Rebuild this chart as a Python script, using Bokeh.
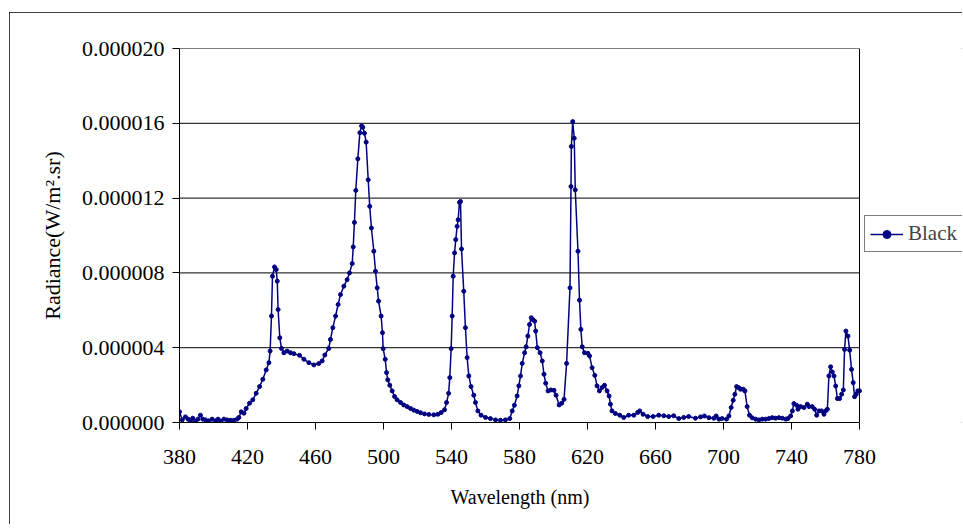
from bokeh.plotting import figure
from bokeh.models import (FixedTicker, PrintfTickFormatter, Legend, LegendItem,
                          Range1d, Span, Title)
from bokeh.embed import file_html
from bokeh.resources import INLINE

# ---- data ----
wavelength = [
    380.0, 381.6, 383.5, 385.1, 386.5, 387.8, 389.4, 390.8, 392.3, 393.7,
    395.3, 397.3, 399.2, 401.2, 402.7, 404.1, 406.1, 408.0, 410.0, 412.0,
    413.9, 414.9, 416.3, 417.9, 419.2, 421.2, 423.1, 425.1, 427.1, 429.0,
    431.0, 432.6, 433.3, 434.1, 434.7, 435.9, 436.9, 437.5, 438.0, 439.0,
    440.0, 441.4, 443.3, 445.3, 447.3, 450.6, 453.2, 456.1, 459.0, 461.9,
    463.9, 465.5, 467.8, 468.8, 470.2, 471.8, 473.3, 474.7, 476.7, 478.6,
    480.0, 481.6, 482.2, 482.9, 483.7, 484.9, 486.1, 487.1, 487.8, 488.8,
    489.8, 491.0, 491.9, 492.9, 494.3, 495.3, 496.3, 497.1, 498.6, 499.4,
    499.8, 501.0, 501.8, 502.5, 503.7, 505.1, 506.5, 508.0, 510.0, 511.9,
    513.9, 515.9, 517.8, 519.8, 521.8, 524.1, 526.7, 529.6, 532.0, 533.9,
    535.9, 537.1, 538.3, 539.0, 539.8, 540.4, 541.0, 541.8, 542.5, 543.3,
    543.9, 544.7, 545.3, 545.9, 547.2, 548.2, 549.2, 550.2, 551.5, 553.1,
    554.1, 555.5, 557.4, 560.0, 562.9, 565.9, 568.8, 571.7, 574.3, 575.7,
    577.0, 578.6, 579.6, 580.6, 581.6, 583.0, 583.9, 584.9, 585.9, 586.9,
    587.9, 588.9, 589.5, 590.5, 592.1, 593.4, 594.4, 595.4, 596.8, 598.4,
    600.3, 601.5, 603.3, 604.8, 606.2, 607.7, 609.7, 610.3, 610.5, 611.3,
    612.2, 612.8, 614.4, 615.3, 616.1, 616.9, 618.2, 620.2, 621.2, 622.7,
    624.3, 625.6, 627.0, 628.6, 630.0, 631.5, 632.7, 633.5, 634.4, 636.4,
    639.0, 641.3, 644.2, 647.2, 649.5, 650.7, 652.7, 655.4, 658.6, 661.9,
    664.9, 667.8, 670.7, 673.7, 676.6, 679.5, 683.5, 686.5, 688.8, 691.4,
    694.3, 695.7, 697.3, 699.2, 701.8, 703.2, 704.5, 705.7, 706.7, 707.7,
    709.0, 710.0, 711.6, 712.6, 713.9, 715.3, 716.9, 718.9, 720.8, 722.8,
    724.8, 726.7, 728.7, 730.6, 732.6, 734.6, 736.6, 737.9, 739.5, 740.5,
    741.4, 743.0, 743.8, 745.3, 747.3, 749.3, 750.3, 752.2, 753.6, 754.8,
    756.2, 757.7, 759.1, 760.1, 761.1, 762.0, 763.0, 764.0, 765.0, 766.0,
    767.0, 768.3, 769.5, 770.5, 771.2, 772.0, 773.2, 774.2, 775.3, 776.3,
    777.1, 778.1, 779.0, 780.0,
]

# radiance in units of 1e-6 W/m2.sr
radiance_micro = [
    0.57, 0.14, 0.30, 0.18, 0.09, 0.23, 0.04, 0.18, 0.39, 0.18,
    0.14, 0.09, 0.18, 0.09, 0.18, 0.07, 0.18, 0.14, 0.12, 0.12,
    0.18, 0.27, 0.57, 0.50, 0.75, 1.03, 1.21, 1.56, 1.92, 2.31,
    2.81, 3.20, 3.82, 5.69, 7.82, 8.32, 8.18, 7.56, 6.04, 4.53,
    3.96, 3.73, 3.82, 3.73, 3.68, 3.59, 3.38, 3.20, 3.08, 3.15,
    3.29, 3.61, 3.96, 4.44, 5.07, 5.69, 6.31, 6.84, 7.29, 7.64,
    8.00, 8.50, 9.39, 10.70, 12.41, 14.10, 15.50, 15.86, 15.79, 15.47,
    14.99, 12.98, 11.56, 10.40, 9.16, 8.09, 7.20, 6.49, 5.69, 4.80,
    3.95, 3.38, 2.67, 2.28, 1.99, 1.69, 1.39, 1.21, 1.07, 0.94,
    0.85, 0.75, 0.66, 0.59, 0.52, 0.46, 0.43, 0.41, 0.44, 0.53,
    0.68, 1.07, 1.56, 2.40, 3.95, 5.69, 7.82, 9.07, 9.78, 10.49,
    10.84, 11.77, 11.82, 9.28, 7.02, 5.07, 3.47, 2.49, 1.92, 1.46,
    1.07, 0.62, 0.39, 0.27, 0.21, 0.14, 0.12, 0.14, 0.21, 0.62,
    0.92, 1.42, 1.96, 2.49, 3.16, 3.73, 4.05, 4.62, 5.24, 5.60,
    5.50, 5.42, 4.89, 4.00, 3.73, 3.29, 2.58, 2.10, 1.69, 1.74,
    1.72, 1.46, 0.94, 1.03, 1.24, 3.16, 7.20, 12.62, 14.76, 16.09,
    15.20, 12.44, 9.16, 6.54, 4.98, 4.05, 3.73, 3.70, 3.56, 2.93,
    2.52, 1.96, 1.69, 1.87, 1.99, 1.69, 1.42, 0.98, 0.62, 0.48,
    0.39, 0.27, 0.39, 0.39, 0.53, 0.62, 0.44, 0.32, 0.32, 0.39,
    0.36, 0.32, 0.36, 0.21, 0.27, 0.32, 0.23, 0.30, 0.35, 0.26,
    0.23, 0.35, 0.18, 0.21, 0.18, 0.35, 0.80, 1.19, 1.51, 1.92,
    1.86, 1.78, 1.78, 1.69, 0.85, 0.39, 0.25, 0.18, 0.14, 0.18,
    0.18, 0.21, 0.26, 0.23, 0.26, 0.23, 0.18, 0.21, 0.35, 0.62,
    1.01, 0.92, 0.71, 0.85, 0.80, 0.98, 0.85, 0.85, 0.71, 0.39,
    0.62, 0.62, 0.44, 0.62, 0.71, 2.49, 2.98, 2.70, 2.49, 1.95,
    1.28, 1.28, 1.51, 1.74, 3.91, 4.89, 4.62, 3.87, 2.84, 2.13,
    1.38, 1.51, 1.69, 1.69,
]
radiance = [v * 1e-6 for v in radiance_micro]

x_ticks = [380, 420, 460, 500, 540, 580, 620, 660, 700, 740, 780]
y_ticks = [0.0, 0.000004, 0.000008, 0.000012, 0.000016, 0.000020]
series_name = "Black"
x_title = "Wavelength (nm)"
y_title = "Radiance(W/m\u00b2.sr)"

FONT = "Liberation Serif"
NAVY = "#000080"

# frame spans from the y axis to the right edge of the chart; the plotted
# area (380-780 nm) occupies 680 px of it, the rest holds the legend.
FIG_W, FIG_H = 953, 512
LEFT, TOP, BOTTOM = 170, 36, 101
PLOT_W = 680
frame_w = FIG_W - LEFT
x_end = x_ticks[0] + (x_ticks[-1] - x_ticks[0]) * frame_w / PLOT_W

p = figure(width=FIG_W, height=FIG_H, output_backend="svg", toolbar_location=None,
           x_range=Range1d(x_ticks[0], x_end), y_range=Range1d(y_ticks[0], y_ticks[-1]),
           min_border_left=LEFT, min_border_right=0,
           min_border_top=TOP, min_border_bottom=BOTTOM,
           margin=(12, 0, 0, 9),
           styles={"outline": "1.5px solid black", "outline-offset": "-1px"})
p.background_fill_color = "white"
p.border_fill_color = "white"
p.outline_line_color = None

# horizontal gridlines limited to the plotted wavelength span
p.segment(x0=[x_ticks[0]] * len(y_ticks), x1=[x_ticks[-1]] * len(y_ticks),
          y0=y_ticks, y1=y_ticks, line_color="black", line_width=1)
p.add_layout(Span(location=x_ticks[-1], dimension="height",
                  line_color="black", line_width=1))

line_r = p.line(wavelength, radiance, line_color=NAVY, line_width=1.5)
pts_r = p.scatter(wavelength, radiance, marker="circle", size=4,
                  fill_color=NAVY, line_color=NAVY)

# axes
for ax in (p.xaxis[0], p.yaxis[0]):
    ax.axis_line_color = "black"
    ax.major_tick_line_color = "black"
    ax.major_tick_out = 7
    ax.major_tick_in = 0
    ax.minor_tick_line_color = None
    ax.major_label_text_font = FONT
    ax.major_label_text_font_size = "22px"
    ax.major_label_text_color = "black"
    ax.axis_label_text_font = FONT
    ax.axis_label_text_font_style = "normal"
    ax.axis_label_text_color = "black"

p.xaxis.bounds = (x_ticks[0], x_ticks[-1])
p.xaxis.ticker = FixedTicker(ticks=x_ticks)
p.yaxis.ticker = FixedTicker(ticks=y_ticks)
p.yaxis.formatter = PrintfTickFormatter(format="%.6f")
p.yaxis.axis_label = y_title
p.yaxis.axis_label_text_font_size = "22px"
p.xaxis.major_label_standoff = 20
p.yaxis.major_label_standoff = 8
p.yaxis.axis_label_standoff = 14

# x title: centred under the plotted 380-780 span, not under the whole frame
TITLE_TEXT_W = 138
xt = Title(text=x_title, align="left", offset=PLOT_W / 2.0 - TITLE_TEXT_W / 2.0,
           text_font=FONT, text_font_size="20px", text_font_style="normal",
           text_color="black", standoff=34)
p.add_layout(xt, "below")

p.xgrid.grid_line_color = None
p.ygrid.grid_line_color = None

legend = Legend(items=[LegendItem(label=series_name, renderers=[line_r, pts_r])],
                location=(685, 170), orientation="vertical",
                border_line_color="black", border_line_width=1,
                background_fill_color="white", background_fill_alpha=1,
                label_text_font=FONT, label_text_font_size="21px",
                glyph_width=33, glyph_height=20, label_height=20,
                label_standoff=5, padding=5, spacing=0, margin=0)
p.add_layout(legend, "center")

open("out.html", "w").write(file_html(p, INLINE))
